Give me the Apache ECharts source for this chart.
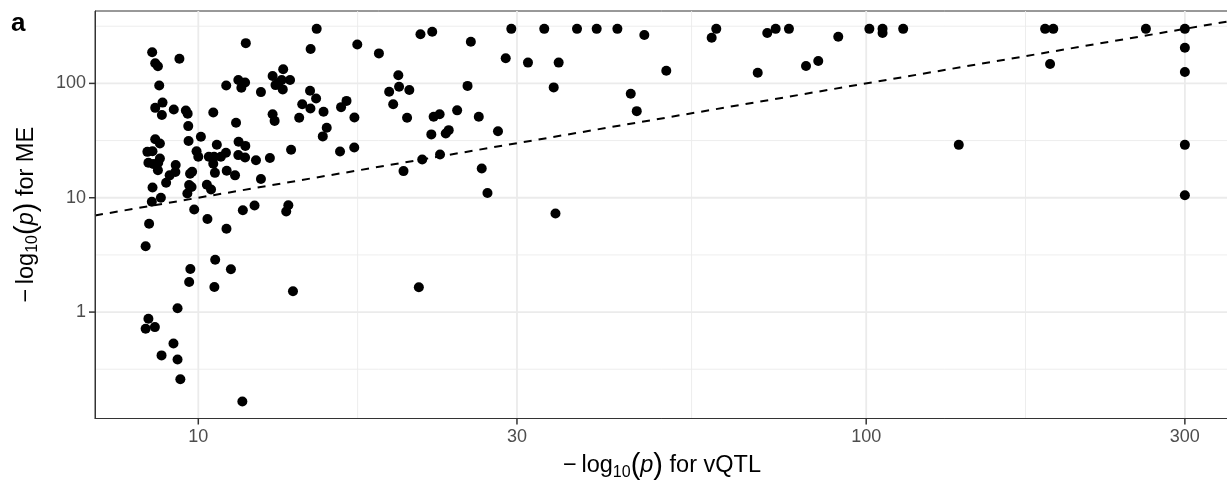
<!DOCTYPE html>
<html><head><meta charset="utf-8">
<script src="https://cdn.jsdelivr.net/npm/echarts@6/dist/echarts.min.js"></script>
<style>html,body{margin:0;padding:0;background:#fff}#c{width:1227px;height:483px}</style>
</head><body><div id="c"></div>
<script>
// -log10(p) for vQTL (x) and for ME (y)
const vqtl = [
8.34, 8.44, 8.42, 8.34, 8.61, 9.18, 8.81, 9.31, 9.40, 9.31,
11.64, 9.73, 9.69, 10.60, 10.57, 11.19, 13.86, 21.39, 9.86, 10.32,
11.02, 11.66, 12.14, 13.64, 13.54, 20.29, 21.64, 23.01, 26.57, 27.10,
34.26, 8.53, 8.62, 8.70, 8.74, 8.62, 8.84, 8.82, 8.62, 8.76,
8.39, 8.54, 8.76, 8.42, 8.56, 8.71, 8.70, 8.54, 8.79, 8.52,
9.37, 9.19, 9.58, 9.64, 9.66, 9.67, 9.25, 9.24, 9.06, 8.95,
9.72, 9.79, 9.69, 9.77, 9.63, 9.94, 10.00, 10.09, 11.78, 11.01,
11.48, 11.75, 11.60, 12.41, 10.53, 11.39, 10.66, 11.49, 11.76, 10.37,
10.56, 10.53, 10.81, 11.00, 10.59, 11.48, 11.75, 12.20, 10.30, 10.45,
11.03, 11.35, 12.41, 12.80, 12.92, 13.01, 12.92, 13.40, 13.05, 13.33,
13.72, 13.38, 13.18, 13.77, 14.16, 15.04, 14.73, 17.30, 14.70, 15.01,
14.31, 14.72, 15.40, 16.67, 16.36, 17.13, 15.57, 15.36, 16.30, 17.12,
18.64, 19.93, 19.31, 19.98, 20.70, 19.58, 20.54, 21.51, 22.40, 25.59,
29.42, 32.96, 28.86, 31.16, 34.64, 25.30, 34.05, 22.51, 22.98, 24.41,
26.30, 22.33, 23.47, 23.71, 28.10, 36.90, 39.49, 42.41, 46.54, 50.20,
44.41, 45.34, 58.70, 59.64, 71.10, 73.19, 76.62, 90.82, 68.80, 81.26,
84.77, 101.1, 105.8, 105.8, 113.6, 185.3, 190.6, 188.5, 262.3, 300,
300, 300, 137.6, 300, 300
];
const me = [
3.76, 5.92, 0.875, 0.715, 0.739, 0.532, 0.418, 0.385, 0.259, 1.08,
0.165, 2.38, 1.83, 2.87, 1.66, 2.37, 1.52, 1.65, 7.88, 6.51,
5.35, 7.77, 8.56, 8.60, 7.59, 17.1, 21.6, 23.9, 18.0, 11.0,
7.27, 187, 150, 141, 95.7, 61.1, 67.9, 53.0, 32.5, 29.8,
25.2, 25.5, 22.0, 20.2, 19.7, 20.2, 17.4, 12.3, 10.0, 9.23,
164, 59.2, 58.0, 54.4, 42.3, 31.4, 19.3, 16.8, 15.7, 13.5,
16.2, 16.9, 12.9, 12.4, 10.9, 25.5, 22.8, 34.1, 225, 95.7,
107, 102, 91.5, 83.9, 55.7, 45.2, 29.1, 30.9, 28.4, 22.8,
22.8, 19.8, 22.8, 24.7, 16.5, 23.6, 22.5, 21.3, 13.0, 11.8,
17.2, 15.7, 14.6, 22.3, 53.8, 47.0, 116, 133, 96.6, 107,
107, 88.6, 101, 26.3, 50.0, 300, 200, 219, 86.1, 73.9,
65.6, 60.4, 56.4, 70.3, 62.0, 50.4, 41.0, 34.4, 25.4, 27.5,
183, 118, 84.4, 93.4, 87.4, 65.6, 50.0, 269, 283, 231,
300, 300, 166, 152, 152, 95.1, 92.3, 51.0, 53.8, 58.1,
51.0, 35.8, 36.5, 39.0, 38.2, 300, 300, 300, 265, 129,
81.1, 57.2, 251, 300, 276, 300, 300, 256, 124, 142,
157, 300, 300, 276, 300, 300, 300, 148, 300, 300,
205, 126, 29.0, 29.0, 10.5
];
const xTicks = [10, 30, 100, 300];
const xMinor = [17.32, 54.77, 173.2];
const yTicks = [1, 10, 100];
const yMinor = [0.3162, 3.162, 31.62, 316.2];
const xRange = [7.004, 349.3];
const yRange = [0.1173, 429.7];

const lg = Math.log10;
const FONT = '"Liberation Sans", Arial, sans-serif';
const fmt = v => String(Math.round(Math.pow(10, v)));
const X0 = lg(xRange[0]), X1 = lg(xRange[1]);
const Y0 = lg(yRange[0]), Y1 = lg(yRange[1]);

const series = [];
function gridLine(data, width) {
  series.push({type: 'line', data, symbol: 'none', silent: true, animation: false, z: 1,
    lineStyle: {color: '#ebebeb', width}});
}
xMinor.forEach(v => gridLine([[lg(v), Y0], [lg(v), Y1]], 0.9));
yMinor.forEach(v => gridLine([[X0, lg(v)], [X1, lg(v)]], 0.9));
xTicks.forEach(v => gridLine([[lg(v), Y0], [lg(v), Y1]], 1.8));
yTicks.forEach(v => gridLine([[X0, lg(v)], [X1, lg(v)]], 1.8));

// identity reference line y = x
series.push({type: 'line', data: [[X0, X0], [X1, X1]], symbol: 'none', silent: true, animation: false, z: 2,
  lineStyle: {color: '#000', width: 2, type: [8, 7]}});

series.push({type: 'scatter', data: vqtl.map((x, i) => [lg(x), lg(me[i])]), symbol: 'circle', symbolSize: 10,
  itemStyle: {color: '#000', opacity: 1}, animation: false, z: 3});

// outside tick marks, placed through the axes' scales
const TICK = 6;
series.push({type: 'custom', silent: true, animation: false, clip: false, z: 10,
  data: xTicks.map(v => [lg(v)]),
  renderItem: (params, api) => {
    const p = api.coord([api.value(0), Y0]);
    return {type: 'line', shape: {x1: p[0], y1: p[1], x2: p[0], y2: p[1] + TICK},
      style: {stroke: '#333', lineWidth: 1.5}};
  }});
series.push({type: 'custom', silent: true, animation: false, clip: false, z: 10,
  data: yTicks.map(v => [lg(v)]),
  encode: {y: 0},
  renderItem: (params, api) => {
    const p = api.coord([X0, api.value(0)]);
    return {type: 'line', shape: {x1: p[0], y1: p[1], x2: p[0] - TICK, y2: p[1]},
      style: {stroke: '#333', lineWidth: 1.5}};
  }});

const rich = {
  t: {fontSize: 23.5, fontFamily: FONT, color: '#000'},
  s: {fontSize: 16, fontFamily: FONT, color: '#000', padding: [13, 0, 0, 0]},
  p: {fontSize: 29, fontFamily: FONT, color: '#000'},
  i: {fontSize: 23.5, fontFamily: FONT, color: '#000', fontStyle: 'italic'}
};
const title = tail => '{t|\u2212\u2009log}{s|10}{p|(}{i|p}{p|)}{t| for ' + tail + '}';

const axisCommon = {
  type: 'value',
  z: 10,
  axisLine: {show: true, onZero: false, lineStyle: {color: '#333', width: 1}},
  axisTick: {show: false},
  splitLine: {show: false},
  nameLocation: 'middle',
  nameTextStyle: {rich}
};

const chart = echarts.init(document.getElementById('c'), null, {renderer: 'canvas'});
chart.setOption({
  animation: false,
  backgroundColor: '#fff',
  title: {text: 'a', left: 6, top: 6, textStyle: {fontSize: 26, fontWeight: 'bold', color: '#000', fontFamily: FONT}},
  grid: {left: 95, right: -2, top: 11, bottom: 64.5, show: true, borderColor: '#333', borderWidth: 1,
    backgroundColor: 'transparent', containLabel: false, outerBoundsMode: 'none'},
  xAxis: Object.assign({}, axisCommon, {
    min: X0, max: X1, position: 'bottom',
    axisLabel: {customValues: xTicks.map(lg), formatter: fmt, margin: 10, color: '#4d4d4d', fontSize: 18, fontFamily: FONT},
    name: title('vQTL'), nameGap: 30
  }),
  yAxis: Object.assign({}, axisCommon, {
    min: Y0, max: Y1, position: 'left',
    axisLabel: {customValues: yTicks.map(lg), formatter: fmt, margin: 9, color: '#4d4d4d', fontSize: 18, fontFamily: FONT},
    name: title('ME'), nameRotate: 90, nameGap: 54
  }),
  series
});
</script></body></html>
